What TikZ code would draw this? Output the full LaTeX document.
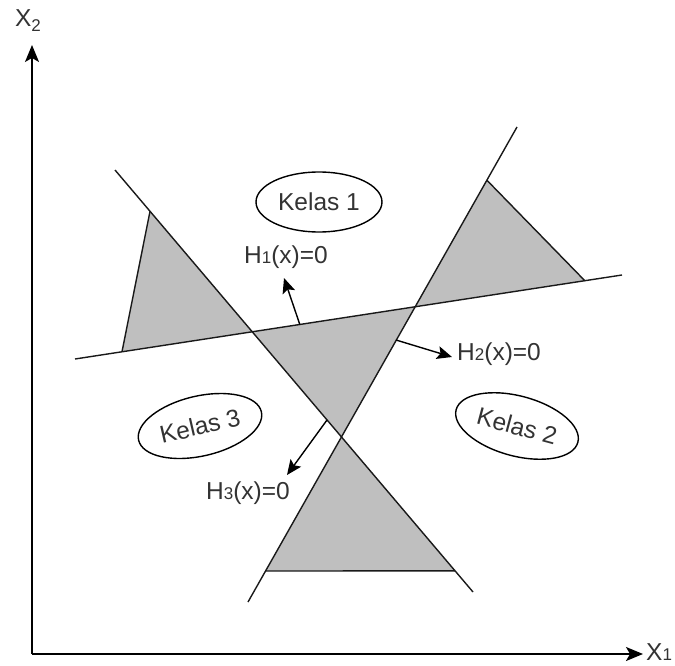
\documentclass[tikz,border=0pt]{standalone}
\usepackage{fontspec}
\setmainfont{Liberation Sans}
\usetikzlibrary{shapes.geometric,arrows.meta,calc}
\newcommand\smd[1]{{\fontsize{17}{17}\selectfont #1}}
\newcommand\subd[1]{\raisebox{-5pt}{\fontsize{17}{17}\selectfont #1}}
\begin{document}
\begin{tikzpicture}[x=1pt,y=-1pt,
  lbl/.style={font=\fontsize{24.5}{27}\selectfont, text=black!80, inner sep=1pt},
  sep/.style={line width=1.4pt, black!90},
  shade/.style={fill=black!25},
  normal/.style={line width=1.4pt, -{Stealth[length=15pt,width=13pt,inset=3pt]}},
  axis/.style={line width=1.7pt, -{Stealth[length=17pt,width=14pt,inset=4pt]}},
  kelas/.style={ellipse, draw, line width=1.4pt, minimum width=126pt, minimum height=60pt, inner sep=0pt, font=\fontsize{24.5}{27}\selectfont, text=black!80}]
\useasboundingbox (0,0) rectangle (675,666);
% separating lines
\coordinate (a1) at (75,359);  \coordinate (a2) at (622,275);
\coordinate (b1) at (248,602); \coordinate (b2) at (517,127);
\coordinate (c1) at (115,170); \coordinate (c2) at (473,592);
\coordinate (i13) at (intersection of a1--a2 and c1--c2);
\coordinate (i12) at (intersection of a1--a2 and b1--b2);
\coordinate (i23) at (intersection of b1--b2 and c1--c2);
\coordinate (pL3) at ($(c1)!0.0978!(c2)$);
\coordinate (pL1) at ($(a1)!0.0859!(a2)$);
\coordinate (pR2) at ($(b1)!0.888!(b2)$);
\coordinate (pR1) at ($(a1)!0.932!(a2)$);
\coordinate (pB2) at ($(b1)!0.0653!(b2)$);
\coordinate (pB3) at ($(c1)!0.950!(c2)$);
% shaded regions
\fill[shade] (pL3) -- (i13) -- (pL1) -- cycle;
\fill[shade] (pR2) -- (pR1) -- (i12) -- cycle;
\fill[shade] (i13) -- (i12) -- (i23) -- cycle;
\fill[shade] (i23) -- (pB3) -- (pB2) -- cycle;
\draw[sep] (a1) -- (a2);
\draw[sep] (b1) -- (b2);
\draw[sep] (c1) -- (c2);
\draw[sep] (pL3) -- (pL1);
\draw[sep] (pR2) -- (pR1);
\draw[sep] (pB2) -- (pB3);
% axes
\coordinate (o) at (32,654);
\node[lbl, anchor=center] (x2) at (28,21) {X\subd{2}};
\node[lbl, anchor=west] (x1) at (645,652) {X\smd{1}};
\coordinate (ytip) at (32,45);
\coordinate (xtip) at (643,654);
\draw[axis] (o) -- (ytip);
\draw[axis] (o) -- (xtip);
% classes
\node[kelas] (k1) at (319,202) {Kelas 1};
\node[kelas, rotate=13] (k3) at (200,426) {Kelas 3};
\node[kelas, rotate=-15] (k2) at (517,426) {Kelas 2};
% normals
\coordinate (n1s) at ($(a1)!0.411!(a2)$);
\coordinate (n1e) at (284,278);
\coordinate (n2s) at (396,340);
\coordinate (n2e) at (452,357);
\coordinate (n3s) at (327,420);
\coordinate (n3e) at (287,475);
\draw[normal] (n1s) -- (n1e);
\draw[normal] (n2s) -- (n2e);
\draw[normal] (n3s) -- (n3e);
\node[lbl] (h1) at (286,257) {H\smd{1}(x)=0};
\node[lbl, anchor=west] (h2) at (456,354) {H\smd{2}(x)=0};
\node[lbl] (h3) at (248,493) {H\smd{3}(x)=0};
\end{tikzpicture}
\end{document}
